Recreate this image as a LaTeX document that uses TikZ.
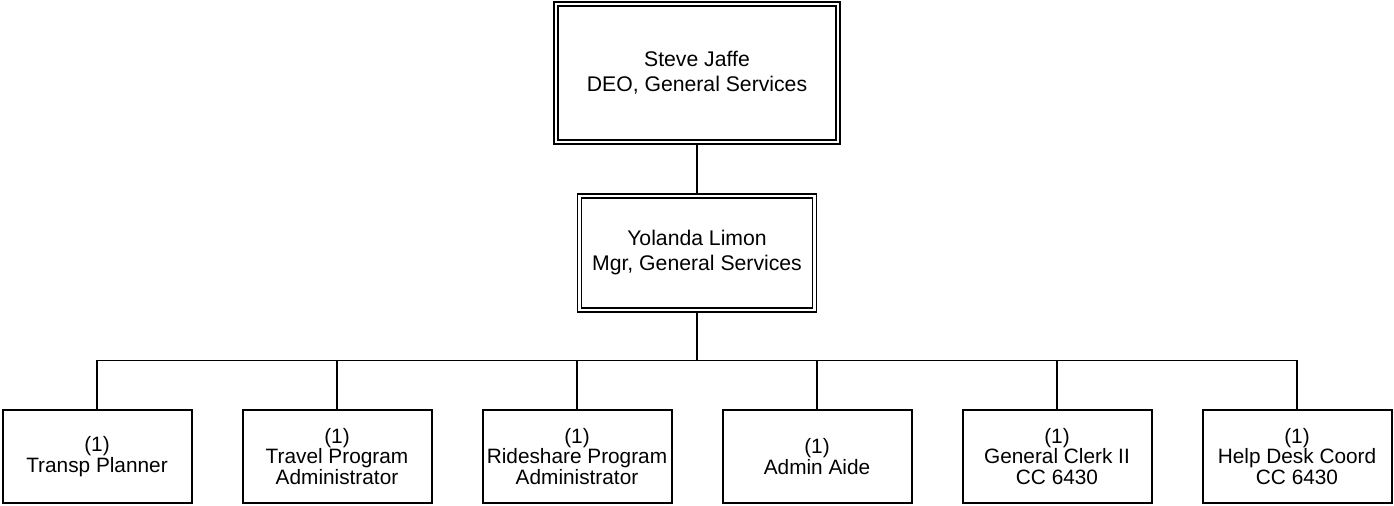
\documentclass[tikz,border=0pt]{standalone}
\usepackage{fontspec}
\setmainfont{Liberation Sans}
\usetikzlibrary{positioning, calc}

\begin{document}
\begin{tikzpicture}[
    % Spacing
    node distance=24pt and 24.5pt,
    % --- BOX STYLES ---
    % Base: black border, sans serif text
    base/.style={
        draw=black,
        align=center,
        font=\fontsize{10.4pt}{10.2pt}\selectfont
    },
    % Heads: double frame
    head/.style={
        base,
        rectangle,
        double,
        line width=0.9pt,
        double distance=1.1pt,
        outer sep=1.45pt,
        font=\fontsize{10.6pt}{12.5pt}\selectfont
    },
    % Staff: single frame
    staff/.style={
        base,
        rectangle,
        line width=1pt,
        minimum width=94.5pt,
        minimum height=46.5pt,
        inner sep=1pt
    },
    % Tree lines
    link/.style={
        line width=0.75pt,
        draw=black
    }
]

\useasboundingbox (0,0) rectangle (697pt,-252.5pt);

% --- 1. MANAGEMENT ---

\node (deo) [head, minimum width=141pt, minimum height=69pt] at (348.5pt,-36.5pt) {Steve Jaffe\\DEO, General Services};
\node (mgr) [head, minimum width=117.5pt, minimum height=57pt, below=of deo] {Yolanda Limon\\Mgr, General Services};

% --- 2. STAFF ROW ---

\node (planner) [staff] at (48.5pt,-228.25pt) {(1)\\Transp Planner};
\node (travel) [staff, right=of planner] {(1)\\Travel Program\\Administrator};
\node (rideshare) [staff, right=of travel] {(1)\\Rideshare Program\\Administrator};
\node (aide) [staff, right=of rideshare] {(1)\\Admin Aide};
\node (clerk) [staff, right=of aide] {(1)\\General Clerk II\\CC 6430};
\node (helpdesk) [staff, right=of clerk] {(1)\\Help Desk Coord\\CC 6430};

% --- CONNECTIONS ---

\coordinate (bus) at ($(mgr.south)+(0,-24pt)$);

\draw [link] (deo.south) -- (mgr.north);
\draw [link] (mgr.south) -- (bus);

% Bus across the staff row
\draw [link] (planner.north) |- (bus) -| (helpdesk.north);
\draw [link] (travel.north) -- (travel.north |- bus);
\draw [link] (rideshare.north) -- (rideshare.north |- bus);
\draw [link] (aide.north) -- (aide.north |- bus);
\draw [link] (clerk.north) -- (clerk.north |- bus);

\end{tikzpicture}
\end{document}
